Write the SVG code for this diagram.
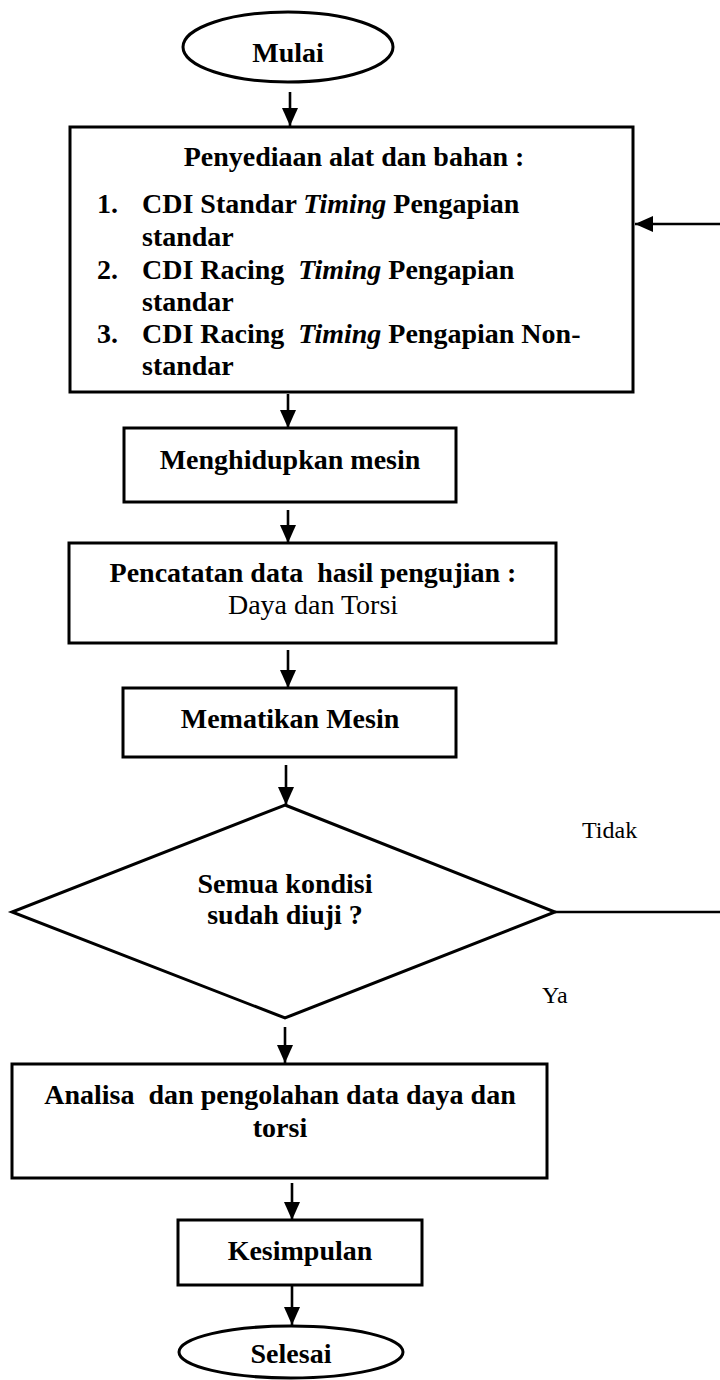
<svg xmlns="http://www.w3.org/2000/svg" width="720" height="1380" viewBox="0 0 720 1380">
<style>
  .shape { fill: #ffffff; stroke: #000000; stroke-width: 3; }
  .conn { fill: none; stroke: #000000; stroke-width: 2.6; }
  .t { font-family: "Liberation Serif", "Times New Roman", serif; font-size: 28px; fill: #000000; white-space: pre; }
  .b { font-weight: bold; }
  .c { text-anchor: middle; }
  .lbl { font-family: "Liberation Serif", "Times New Roman", serif; font-size: 24px; fill: #000000; }
</style>
<defs>
  <marker id="arrow" viewBox="0 0 18 18" refX="18" refY="9" markerWidth="18" markerHeight="18" markerUnits="userSpaceOnUse" orient="auto">
    <path d="M0,1 L18,9 L0,17 z" fill="#000000"/>
  </marker>
</defs>
<rect width="720" height="1380" fill="#ffffff"/>

<g id="connectors">
  <line class="conn" x1="290" y1="92" x2="290" y2="126" marker-end="url(#arrow)"/>
  <line class="conn" x1="288" y1="394" x2="288" y2="428" marker-end="url(#arrow)"/>
  <line class="conn" x1="288" y1="510" x2="288" y2="543" marker-end="url(#arrow)"/>
  <line class="conn" x1="288" y1="650" x2="288" y2="688" marker-end="url(#arrow)"/>
  <line class="conn" x1="286" y1="765" x2="286" y2="805" marker-end="url(#arrow)"/>
  <line class="conn" x1="285" y1="1027" x2="285" y2="1063" marker-end="url(#arrow)"/>
  <line class="conn" x1="292" y1="1183" x2="292" y2="1220" marker-end="url(#arrow)"/>
  <line class="conn" x1="292" y1="1286" x2="292" y2="1325" marker-end="url(#arrow)"/>
  <path class="conn" d="M555,912 H723 V224 H635" marker-end="url(#arrow)"/>
  <text class="lbl" x="582" y="838">Tidak</text>
  <text class="lbl" x="542" y="1003">Ya</text>
</g>

<g id="mulai">
  <ellipse class="shape" cx="288" cy="47" rx="105" ry="35"/>
  <text class="t b c" x="288" y="62">Mulai</text>
</g>

<g id="penyediaan">
  <rect class="shape" x="70" y="127" width="563" height="265"/>
  <text class="t b c" x="354" y="166">Penyediaan alat dan bahan :</text>
  <text class="t b" x="97" y="213">1.</text>
  <text class="t b" x="142" y="213">CDI Standar <tspan font-style="italic">Timing</tspan> Pengapian</text>
  <text class="t b" x="142" y="246">standar</text>
  <text class="t b" x="97" y="279">2.</text>
  <text class="t b" x="142" y="279">CDI Racing  <tspan font-style="italic">Timing</tspan> Pengapian</text>
  <text class="t b" x="142" y="311">standar</text>
  <text class="t b" x="97" y="343">3.</text>
  <text class="t b" x="142" y="343">CDI Racing  <tspan font-style="italic">Timing</tspan> Pengapian Non-</text>
  <text class="t b" x="142" y="375">standar</text>
</g>

<g id="menghidupkan">
  <rect class="shape" x="124" y="428" width="332" height="74"/>
  <text class="t b c" x="290" y="469">Menghidupkan mesin</text>
</g>

<g id="pencatatan">
  <rect class="shape" x="69" y="543" width="487" height="100"/>
  <text class="t b c" x="313" y="582">Pencatatan data  hasil pengujian :</text>
  <text class="t c" x="313" y="614">Daya dan Torsi</text>
</g>

<g id="mematikan">
  <rect class="shape" x="123" y="688" width="333" height="69"/>
  <text class="t b c" x="290" y="728">Mematikan Mesin</text>
</g>

<g id="keputusan">
  <polygon class="shape" points="285,805 555,912 285,1018 12,912"/>
  <text class="t b c" x="285" y="893">Semua kondisi</text>
  <text class="t b c" x="285" y="924">sudah diuji ?</text>
</g>

<g id="analisa">
  <rect class="shape" x="12" y="1064" width="535" height="114"/>
  <text class="t b c" x="280" y="1104">Analisa  dan pengolahan data daya dan</text>
  <text class="t b c" x="280" y="1137">torsi</text>
</g>

<g id="kesimpulan">
  <rect class="shape" x="178" y="1220" width="244" height="65"/>
  <text class="t b c" x="300" y="1260">Kesimpulan</text>
</g>

<g id="selesai">
  <ellipse class="shape" cx="291" cy="1352" rx="112" ry="26"/>
  <text class="t b c" x="291" y="1363">Selesai</text>
</g>
</svg>
